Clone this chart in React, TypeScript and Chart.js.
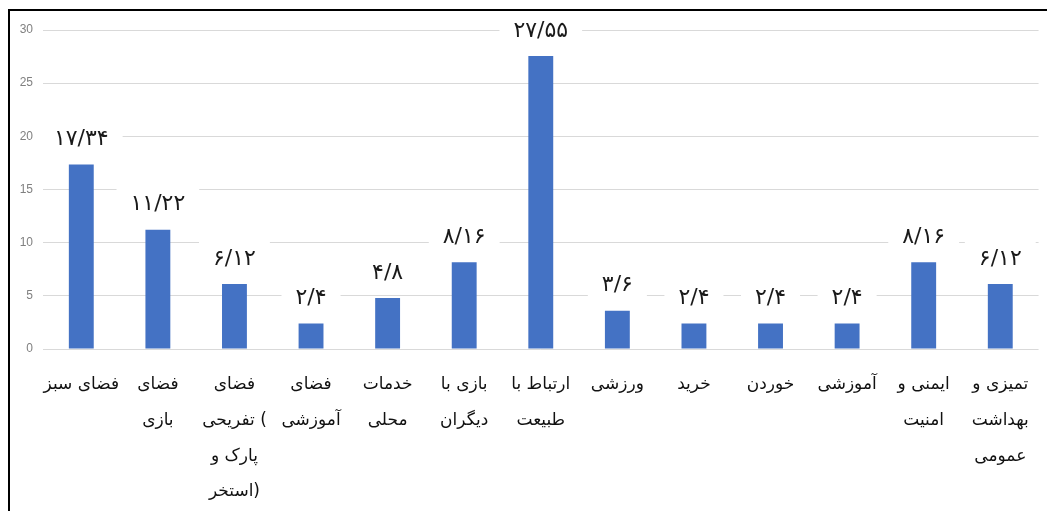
import React, { useEffect, useRef } from "react";
import { Chart, registerables } from "chart.js";

Chart.register(...registerables);

const LRE = "\u202A";
const PDF = "\u202C";

const categories: string[][] = [
  ["فضای سبز"],
  ["فضای", "بازی"],
  ["فضای", "تفریحی (", "پارک و", "استخر)"],
  ["فضای", "آموزشی"],
  ["خدمات", "محلی"],
  ["بازی با", "دیگران"],
  ["ارتباط با", "طبیعت"],
  ["ورزشی"],
  ["خرید"],
  ["خوردن"],
  ["آموزشی"],
  ["ایمنی و", "امنیت"],
  ["تمیزی و", "بهداشت", "عمومی"],
];

const values: number[] = [17.34, 11.22, 6.12, 2.4, 4.8, 8.16, 27.55, 3.6, 2.4, 2.4, 2.4, 8.16, 6.12];

const yTicks = { min: 0, max: 30, step: 5 };

const persianDigits = ["۰", "۱", "۲", "۳", "۴", "۵", "۶", "۷", "۸", "۹"];
const toPersian = (v: number) =>
  String(v)
    .replace(".", "/")
    .replace(/[0-9]/g, (d) => persianDigits[Number(d)]);

const valueLabelPlugin = {
  id: "valueLabels",
  afterDatasetsDraw(chart: any) {
    const ctx = chart.ctx;
    const meta = chart.getDatasetMeta(0);
    ctx.save();
    ctx.font = '22px "DejaVu Sans"';
    ctx.textAlign = "center";
    ctx.textBaseline = "middle";
    meta.data.forEach((bar: any, i: number) => {
      const text = LRE + toPersian(values[i]) + PDF;
      const w = ctx.measureText(text).width;
      const cx = bar.x;
      const cy = bar.y - 25;
      ctx.fillStyle = "#ffffff";
      ctx.fillRect(cx - w / 2 - 14, cy - 17, w + 28, 34);
      ctx.fillStyle = "#1a1a1a";
      ctx.fillText(text, cx, cy);
    });
    ctx.restore();
  },
};

export default function App() {
  const canvasRef = useRef<HTMLCanvasElement | null>(null);

  useEffect(() => {
    document.documentElement.style.overflow = "hidden";
    const canvas = canvasRef.current;
    if (!canvas) return;
    const chart = new Chart(canvas, {
      type: "bar",
      data: {
        labels: categories.map((lines) => lines.map((l) => LRE + l + PDF)),
        datasets: [
          {
            data: values,
            backgroundColor: "#4472C4",
            borderWidth: 0,
            barPercentage: 0.325,
            categoryPercentage: 1,
          },
        ],
      },
      options: {
        animation: false,
        responsive: true,
        maintainAspectRatio: false,
        layout: { padding: { top: 19, right: 4, bottom: 0, left: 0 } },
        plugins: {
          legend: { display: false },
          tooltip: { enabled: false },
        },
        scales: {
          x: {
            grid: { display: false, drawTicks: false },
            border: { display: false },
            ticks: {
              padding: 18,
              color: "#111111",
              font: { family: '"DejaVu Sans"', size: 17, lineHeight: 2.1 },
              maxRotation: 0,
              autoSkip: false,
            },
            afterFit: (scale: any) => {
              scale.height = 162;
            },
          },
          y: {
            min: yTicks.min,
            max: yTicks.max,
            grid: { color: "#d9d9d9", lineWidth: 1, drawTicks: false },
            border: { display: false },
            ticks: {
              stepSize: yTicks.step,
              padding: 10,
              color: "#808080",
              font: { family: '"Liberation Sans"', size: 12 },
            },
            afterFit: (scale: any) => {
              scale.width = 33;
            },
          },
        },
      },
      plugins: [valueLabelPlugin],
    });
    return () => chart.destroy();
  }, []);

  return (
    <div
      style={{
        position: "fixed",
        left: 8,
        top: 9,
        width: 1039,
        height: 502,
        borderLeft: "2px solid #000",
        borderTop: "2px solid #000",
        boxSizing: "border-box",
        background: "#fff",
      }}
    >
      <div style={{ position: "relative", width: 1037, height: 500, direction: "ltr" }}>
        <canvas ref={canvasRef} style={{ direction: "ltr" }} />
      </div>
    </div>
  );
}
